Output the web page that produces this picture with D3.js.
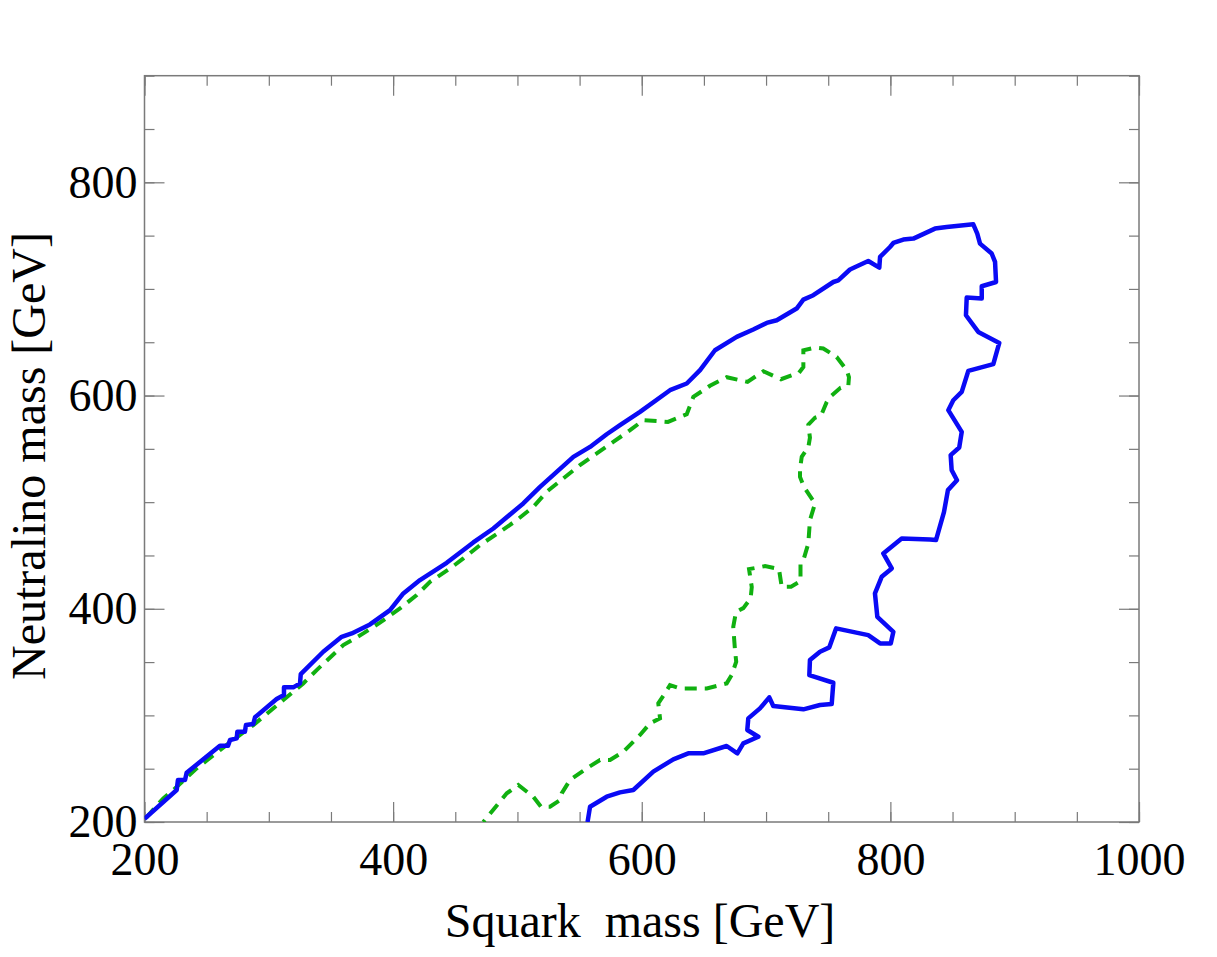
<!DOCTYPE html>
<html>
<head>
<meta charset="utf-8">
<script src="https://cdn.jsdelivr.net/npm/d3@7"></script>
<style>
  body { margin: 0; background: #fff; }
  svg text { font-family: "Liberation Serif", "DejaVu Serif", serif; fill: #000; }
</style>
</head>
<body>
<svg id="chart" width="1217" height="957"></svg>
<script>
// squark mass vs neutralino mass, two exclusion contours
const xTicks = [200, 400, 600, 800, 1000];
const yTicks = [200, 400, 600, 800];

// solid blue contour [squark, neutralino]
const blueContour = [
  [200, 203], [225.9, 230], [226.9, 239.4], [232.6, 239.4], [233.9, 246.2], [260.7, 271.5],
  [267.2, 271.5], [268.8, 276.9], [274.2, 278.5], [274.7, 284.7], [280.8, 284.7], [281.6, 290.9],
  [287.5, 291.9], [288.9, 298.2], [306.3, 315.3], [312.2, 319.1], [312.2, 326.3], [319.7, 326.3],
  [325.1, 330], [325.7, 338.7], [343.8, 359.7], [358.6, 373.7], [366.7, 376.9], [381.4, 385.3],
  [397.5, 398.8], [408.2, 414.4], [421.6, 426.9], [443.1, 443.1], [464.5, 462.2], [480.6, 475.3],
  [504.7, 498.8], [518.2, 514.3], [545, 542.5], [558.4, 551.8], [571.8, 563.7], [582.5, 572.2],
  [598.6, 584.7], [622.7, 605], [636.2, 611.3], [646.9, 623.8], [658.9, 642.5], [676.4, 655],
  [689.7, 661.9], [700.5, 668.1], [708.6, 670.6], [724.6, 681.6], [730, 690], [738, 694.1],
  [754.1, 706.5], [758.1, 708.1], [767.5, 718.2], [782.2, 726.2], [791.1, 720], [791.7, 730],
  [799.7, 739.3], [802.4, 743.1], [810.4, 746.3], [818.5, 747.2], [835.9, 756.6], [845.3, 758.1],
  [866.7, 760.6], [869.9, 751.9], [872.1, 742.5], [881.5, 733.2], [884.2, 725.3], [885, 706.5],
  [873.5, 702.5], [873.5, 691], [861.4, 691.9], [860.8, 675.3], [870.7, 659.7], [887.6, 649.3],
  [882.8, 629.4], [862.7, 623.1], [857.4, 603.4], [850.6, 595.6], [846.6, 586.3], [857.4, 565.9],
  [855.4, 551.3], [848.5, 544.1], [849.3, 530], [853.6, 520.6], [846.3, 511.3], [843.1, 490.6],
  [836.7, 464.4], [831.8, 465], [809.1, 466], [794.3, 451.9], [801.1, 437.8], [793, 430],
  [787.6, 414.4], [789.5, 392.5], [802.4, 378.4], [800.3, 367.5], [791.7, 367.5], [782.2, 375.3],
  [756.3, 381.6], [750.9, 363.8], [743.4, 359.7], [735.3, 351.9], [734.8, 337.8], [754.1, 330.6],
  [752.8, 310.6], [743.4, 309.7], [730, 305.7], [705.8, 308.8], [702.6, 316.9], [695.1, 306.6],
  [685.7, 297.2], [684.9, 286.3], [693.8, 280], [681.7, 273.8], [676.9, 264.4], [668.3, 271.3],
  [649.5, 264.4], [637.4, 264.4], [625.4, 258.8], [609.3, 247.2], [593.2, 230], [582.5, 227.8],
  [571.8, 223.7], [558.4, 214.3], [556.4, 200]
];

// dashed green contour [squark, neutralino]
const greenContour = [
  [201.2, 203.8], [215.1, 222.2], [223.2, 230], [242, 250.3], [260.7, 267.5], [271.4, 276.9],
  [287.5, 290.9], [311.7, 314.4], [327.7, 330], [338.5, 342.5], [359.9, 365.9], [376, 376.9],
  [389.4, 387], [405.5, 400.3], [419, 412.8], [429.7, 425.3], [445.8, 437.8], [456.5, 447.2],
  [469.9, 459.7], [486, 472.2], [499.4, 483.1], [512.8, 495.6], [523.5, 509.7], [536.9, 522.2],
  [550.3, 534.7], [563.8, 545.7], [577.1, 556.5], [590.6, 567.5], [601.3, 576.9], [621.1, 575.3],
  [636.2, 582.5], [641.5, 598.7], [654.9, 609.2], [668.3, 617.2], [685.1, 612.8], [697.8, 622.8],
  [712, 615.3], [726.5, 621.4], [730, 626.8], [730, 642.5], [739.4, 645], [746, 644.1],
  [756.8, 636.2], [764.9, 623.8], [766.7, 617.2], [766.2, 609.7], [759.9, 607.3], [751.4, 598.7],
  [748.8, 594], [744.2, 581.1], [739.4, 579.2], [734, 572.7], [735.3, 560.5], [734, 551.6],
  [728.7, 542.5], [727.3, 530.9], [727.3, 523.7], [730.5, 514.3], [739.4, 498.8], [735.3, 483.1],
  [734, 461.3], [730.5, 447.5], [727.7, 443.3], [727.7, 425.9], [720.1, 420.6], [712.6, 420.6],
  [710.4, 437.2], [699.2, 440], [686.3, 437.2], [688.5, 420.3], [687.6, 409.7], [681.7, 400.6],
  [675.8, 396.9], [673.6, 383.1], [675, 361.3], [676, 350.3], [672.3, 337.8], [668.3, 330],
  [652.3, 325.3], [630.8, 325.3], [622.7, 328.4], [618.7, 320.7], [613.3, 311.3], [614.7, 297.2],
  [606.6, 292.5], [598.6, 281.6], [585.2, 265.9], [574.5, 258.1], [566.4, 258.1], [555.7, 250.3],
  [542.3, 239.4], [535.6, 226.9], [534.2, 220.6], [526.2, 214.3], [519, 214.3], [512.8, 223.7],
  [500.7, 234.7], [491.4, 226.9], [472.5, 200]
];

const plotLeft = 144.5, plotRight = 1139, plotTop = 75.7, plotBottom = 822;
const svg = d3.select("#chart");

const x = d3.scaleLinear().domain([200, 1000]).range([plotLeft, plotRight]);
const y = d3.scaleLinear().domain([200, 900]).range([plotBottom, plotTop]);

const minorX = d3.range(200, 1001, 50);
const minorY = d3.range(200, 901, 50);

// ticks pointing into the plot on all four sides
function tickAxis(axis, translate, values, size, withLabels) {
  const g = svg.append("g")
    .attr("transform", translate)
    .call(axis.tickValues(values).tickSize(size).tickPadding(withLabels ? 26 : 0)
      .tickFormat(withLabels ? d3.format("d") : ""));
  g.select(".domain").remove();
  g.selectAll("line").attr("stroke", "#7a7a7a").attr("stroke-width", 1.2);
  g.selectAll("text").style("font-size", "46px");
  return g;
}

tickAxis(d3.axisBottom(x), `translate(0,${plotBottom})`, minorX, -10, false);
const xg = tickAxis(d3.axisBottom(x), `translate(0,${plotBottom})`, xTicks, -20, true);
xg.selectAll("text").attr("y", 20).attr("dy", "0.71em");
tickAxis(d3.axisTop(x), `translate(0,${plotTop})`, minorX, -10, false);
tickAxis(d3.axisTop(x), `translate(0,${plotTop})`, xTicks, -20, false);

tickAxis(d3.axisLeft(y), `translate(${plotLeft},0)`, minorY, -10, false);
const yg = tickAxis(d3.axisLeft(y), `translate(${plotLeft},0)`, yTicks, -20, true);
yg.selectAll("text").attr("x", -7);
tickAxis(d3.axisRight(y), `translate(${plotRight},0)`, minorY, -10, false);
tickAxis(d3.axisRight(y), `translate(${plotRight},0)`, yTicks, -20, false);

// frame
svg.append("rect")
  .attr("x", plotLeft).attr("y", plotTop)
  .attr("width", plotRight - plotLeft).attr("height", plotBottom - plotTop)
  .attr("fill", "none").attr("stroke", "#7a7a7a").attr("stroke-width", 1.5);

svg.append("clipPath").attr("id", "plotClip")
  .append("rect")
  .attr("x", plotLeft).attr("y", plotTop)
  .attr("width", plotRight - plotLeft).attr("height", plotBottom - plotTop);

const line = d3.line().x(d => x(d[0])).y(d => y(d[1]));

svg.append("path")
  .datum(greenContour)
  .attr("clip-path", "url(#plotClip)")
  .attr("d", line)
  .attr("fill", "none")
  .attr("stroke", "#10b010")
  .attr("stroke-width", 4)
  .attr("stroke-dasharray", "12,8");

svg.append("path")
  .datum(blueContour)
  .attr("clip-path", "url(#plotClip)")
  .attr("d", line)
  .attr("fill", "none")
  .attr("stroke", "#0a0af5")
  .attr("stroke-width", 4.5)
  .attr("stroke-linejoin", "round");

// axis titles
svg.append("text")
  .attr("x", 640).attr("y", 937)
  .attr("text-anchor", "middle")
  .style("font-size", "48px")
  .style("white-space", "pre")
  .text("Squark  mass [GeV]");

svg.append("text")
  .attr("transform", `translate(45,456) rotate(-90)`)
  .attr("text-anchor", "middle")
  .style("font-size", "48px")
  .text("Neutralino mass [GeV]");
</script>
</body>
</html>
